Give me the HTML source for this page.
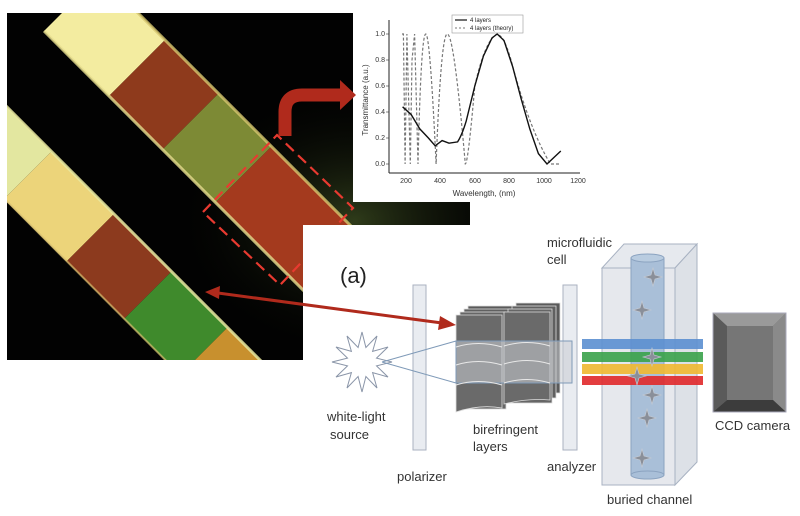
<!DOCTYPE html>
<html><head><meta charset="utf-8"><style>
html,body{margin:0;padding:0;background:#fff;}
svg{display:block;font-family:"Liberation Sans","DejaVu Sans",sans-serif;}
</style></head><body>
<svg width="800" height="516" viewBox="0 0 800 516" xmlns="http://www.w3.org/2000/svg">
<defs>
<clipPath id="ph"><rect x="7" y="13" width="463" height="347"/></clipPath>
<radialGradient id="glow" cx="0.75" cy="0.6" r="0.4"><stop offset="0" stop-color="#3a4a20" stop-opacity="0.8"/><stop offset="1" stop-color="#000" stop-opacity="0"/></radialGradient>
<g id="sp"><path d="M0,-9 L2,-2 L9,0 L2,2 L0,9 L-2,2 L-9,0 L-2,-2 Z" fill="#8a8f99" stroke="#c8ccd4" stroke-width="0.6"/></g>
</defs>
<g clip-path="url(#ph)">
<rect x="7" y="13" width="463" height="347" fill="#020202"/>
<rect x="7" y="13" width="463" height="347" fill="url(#glow)"/>
<polygon points="44,31 100,-25 165,40 109,96" fill="#f3eca0"/>
<polygon points="109,96 165,40 218.5,93.5 162.5,149.5" fill="#8e3a1c"/>
<polygon points="162.5,149.5 218.5,93.5 271.5,146.5 215.5,202.5" fill="#7d8a35"/>
<polygon points="215.5,202.5 271.5,146.5 462,337 406,393" fill="#a43a1e"/>
<line x1="44" y1="31" x2="406" y2="393" stroke="#e8e090" stroke-width="3" opacity="0.8"/>
<line x1="100" y1="-25" x2="462" y2="337" stroke="#d8c870" stroke-width="3" opacity="0.8"/>
<polygon points="-50,50 -97,97 4,199 51.5,151.5" fill="#e3e7a0"/>
<polygon points="51.5,151.5 4,199 66.5,261.5 114,214" fill="#ecd47a"/>
<polygon points="114,214 66.5,261.5 124,319 171.5,271.5" fill="#8c3a1e"/>
<polygon points="171.5,271.5 124,319 180,375 227.5,327.5" fill="#3f8a2c"/>
<polygon points="227.5,327.5 180,375 302,497 350,450" fill="#c8902e"/>
<line x1="-50" y1="50" x2="350" y2="450" stroke="#e8e8a0" stroke-width="3" opacity="0.85"/>
<line x1="-97" y1="97" x2="302" y2="497" stroke="#d8c070" stroke-width="2" opacity="0.7"/>
</g>
<polygon points="203,212 277,135 353,208 280,285" fill="none" stroke="#e83a30" stroke-width="2.2" stroke-dasharray="11,6"/>
<rect x="353" y="0" width="247" height="202" fill="#fff"/>
<g stroke="#222" stroke-width="1" fill="none">
<line x1="389" y1="20" x2="389" y2="173"/>
<line x1="389" y1="173" x2="580" y2="173"/>
</g>
<g font-size="7" fill="#333" text-anchor="end">
<text x="385" y="36">1.0</text><text x="385" y="62">0.8</text><text x="385" y="88">0.6</text><text x="385" y="114">0.4</text><text x="385" y="140">0.2</text><text x="385" y="166">0.0</text>
</g>
<g font-size="7" fill="#333" text-anchor="middle">
<text x="406" y="183">200</text><text x="440" y="183">400</text><text x="475" y="183">600</text><text x="509" y="183">800</text><text x="544" y="183">1000</text><text x="578" y="183">1200</text>
</g>
<text x="484" y="196" font-size="8" fill="#333" text-anchor="middle">Wavelength, (nm)</text>
<text transform="translate(368,100) rotate(-90)" font-size="8" fill="#333" text-anchor="middle">Transmittance (a.u.)</text>
<g stroke="#333" stroke-width="0.6"><line x1="389" y1="34" x2="386" y2="34"/><line x1="389" y1="60" x2="386" y2="60"/><line x1="389" y1="86" x2="386" y2="86"/><line x1="389" y1="112" x2="386" y2="112"/><line x1="389" y1="138" x2="386" y2="138"/><line x1="389" y1="164" x2="386" y2="164"/></g>
<path d="M402,34 L403.4,34 L405.1,164 L406.9,34 L410.3,164 L412,60 L414.6,34 L418,164 Q421,34 425.8,34 Q430,34 436.1,164 Q441,34 447.3,34 Q454,34 465.3,164 Q468,164 474.8,86 Q485,40 497.2,34 Q505,36 512.6,66 Q530,130 550.4,164 L559,164" fill="none" stroke="#777" stroke-width="1.2" stroke-dasharray="3,2"/>
<path d="M402.6,106.8 L411.2,114.6 L419.8,128.9 L428.4,138 L435.2,145.8 L442.1,140.6 L449,143.2 L457.6,141.9 Q462,135 466.2,121.1 L474.8,86 L483.4,56.1 L492,37.9 L497.2,34 L504,40.5 L512.6,66.5 L521.2,99 L529.8,128.9 L538.4,153.6 L547,164 L553.9,157.5 L560.8,151" fill="none" stroke="#111" stroke-width="1.4"/>
<rect x="452" y="15" width="71" height="18" fill="#fff" stroke="#999" stroke-width="0.6"/>
<line x1="455" y1="20" x2="467" y2="20" stroke="#111" stroke-width="1.2"/>
<line x1="455" y1="28" x2="467" y2="28" stroke="#777" stroke-width="1" stroke-dasharray="2,2"/>
<text x="470" y="22" font-size="6" fill="#222">4 layers</text>
<text x="470" y="30" font-size="6" fill="#222">4 layers (theory)</text>
<path d="M285,136 L285,112 Q285,95 302,95 L342,95" fill="none" stroke="#b02a1c" stroke-width="13"/>
<polygon points="340,80 356,95 340,110" fill="#b02a1c"/>
<rect x="303" y="225" width="497" height="291" fill="#fff"/>
<text x="340" y="283" font-size="22" fill="#222">(a)</text>
<rect x="413" y="285" width="13" height="165" fill="#e9ecf1" stroke="#aab2c0"/>
<rect x="563" y="285" width="14" height="165" fill="#e9ecf1" stroke="#aab2c0"/>
<polygon points="392,362 376.5,365.9 388,377 372.6,372.6 377,388 365.9,376.5 362,392 358.1,376.5 347,388 351.4,372.6 336,377 347.5,365.9 332,362 347.5,358.1 336,347 351.4,351.4 347,336 358.1,347.5 362,332 365.9,347.5 377,336 372.6,351.4 388,347 376.5,358.1" fill="#fff" stroke="#8a95a8" stroke-width="1"/>
<g stroke="#ddd" stroke-width="0.8">
<rect x="468" y="306" width="46" height="92" fill="#5a5a5a"/>
<rect x="464" y="309" width="46" height="94" fill="#606060"/>
<rect x="460" y="312" width="46" height="97" fill="#666"/>
<path d="M456,315 L502,315 L502,408 Q480,404 456,412 Z" fill="#6a6a6a"/>
<rect x="516" y="303" width="44" height="90" fill="#5a5a5a"/>
<rect x="512" y="306" width="44" height="92" fill="#606060"/>
<rect x="508" y="309" width="44" height="94" fill="#666"/>
<path d="M504,312 L550,312 L550,400 Q527,398 504,404 Z" fill="#6a6a6a"/>
</g>
<rect x="456" y="341" width="116" height="42" fill="#c8ccd2" fill-opacity="0.55" stroke="#7f9ab8" stroke-width="1"/>
<g fill="none" stroke="#e8e8e8" stroke-width="1">
<path d="M456,347 Q478,340 502,347 M456,365 Q478,358 502,365 M456,385 Q478,378 502,385"/>
<path d="M504,346 Q527,339 550,346 M504,364 Q527,357 550,364 M504,383 Q527,376 550,383"/>
</g>
<line x1="382" y1="362" x2="456" y2="341" stroke="#7f9ab8" stroke-width="1"/>
<line x1="382" y1="362" x2="456" y2="383" stroke="#7f9ab8" stroke-width="1"/>
<polygon points="602,268 624,244 697,244 675,268" fill="#e6e9ee" stroke="#a8b2c2"/>
<polygon points="675,268 697,244 697,462 675,485" fill="#dde1e7" stroke="#a8b2c2"/>
<rect x="602" y="268" width="73" height="217" fill="#e3e6eb" fill-opacity="0.9" stroke="#a8b2c2"/>
<rect x="631" y="258" width="33" height="217" fill="#a9bfd8" stroke="#8ba3c0"/>
<ellipse cx="647.5" cy="258" rx="16.5" ry="4" fill="#b9cce0" stroke="#8ba3c0"/>
<ellipse cx="647.5" cy="475" rx="16.5" ry="4" fill="#a9bfd8" stroke="#8ba3c0"/>
<rect x="582" y="339" width="121" height="10" fill="#5b8fd0" fill-opacity="0.9"/>
<rect x="582" y="352" width="121" height="10" fill="#3aa24a" fill-opacity="0.9"/>
<rect x="582" y="364" width="121" height="10" fill="#f0b830" fill-opacity="0.9"/>
<rect x="582" y="376" width="121" height="9" fill="#e0282a" fill-opacity="0.9"/>
<use href="#sp" x="653" y="277"/><use href="#sp" x="642" y="310"/><use href="#sp" x="652" y="357"/><use href="#sp" x="637" y="376"/><use href="#sp" x="652" y="395"/><use href="#sp" x="647" y="418"/><use href="#sp" x="642" y="458"/>
<rect x="713" y="313" width="73" height="99" fill="#6e6e6e"/>
<polygon points="713,313 786,313 773,326 727,326" fill="#9a9a9a"/>
<polygon points="773,326 786,313 786,412 773,400" fill="#8a8a8a"/>
<polygon points="713,412 727,400 773,400 786,412" fill="#3c3c3c"/>
<polygon points="713,313 727,326 727,400 713,412" fill="#5a5a5a"/>
<rect x="727" y="326" width="46" height="74" fill="#767676"/>
<rect x="713" y="313" width="73" height="99" fill="none" stroke="#aab" stroke-width="1"/>
<g font-size="13" fill="#333">
<text x="547" y="247">microfluidic</text>
<text x="547" y="264">cell</text>
<text x="327" y="421">white-light</text>
<text x="330" y="439">source</text>
<text x="397" y="481">polarizer</text>
<text x="473" y="434">birefringent</text>
<text x="473" y="451">layers</text>
<text x="547" y="471">analyzer</text>
<text x="607" y="504">buried channel</text>
<text x="715" y="430">CCD camera</text>
</g>
<line x1="218" y1="293" x2="442" y2="323" stroke="#b02a1c" stroke-width="3"/>
<polygon points="205,292 220,286 219,299" fill="#b02a1c"/>
<polygon points="456,325 440,316 438,330" fill="#b02a1c"/>
</svg>
</body></html>
